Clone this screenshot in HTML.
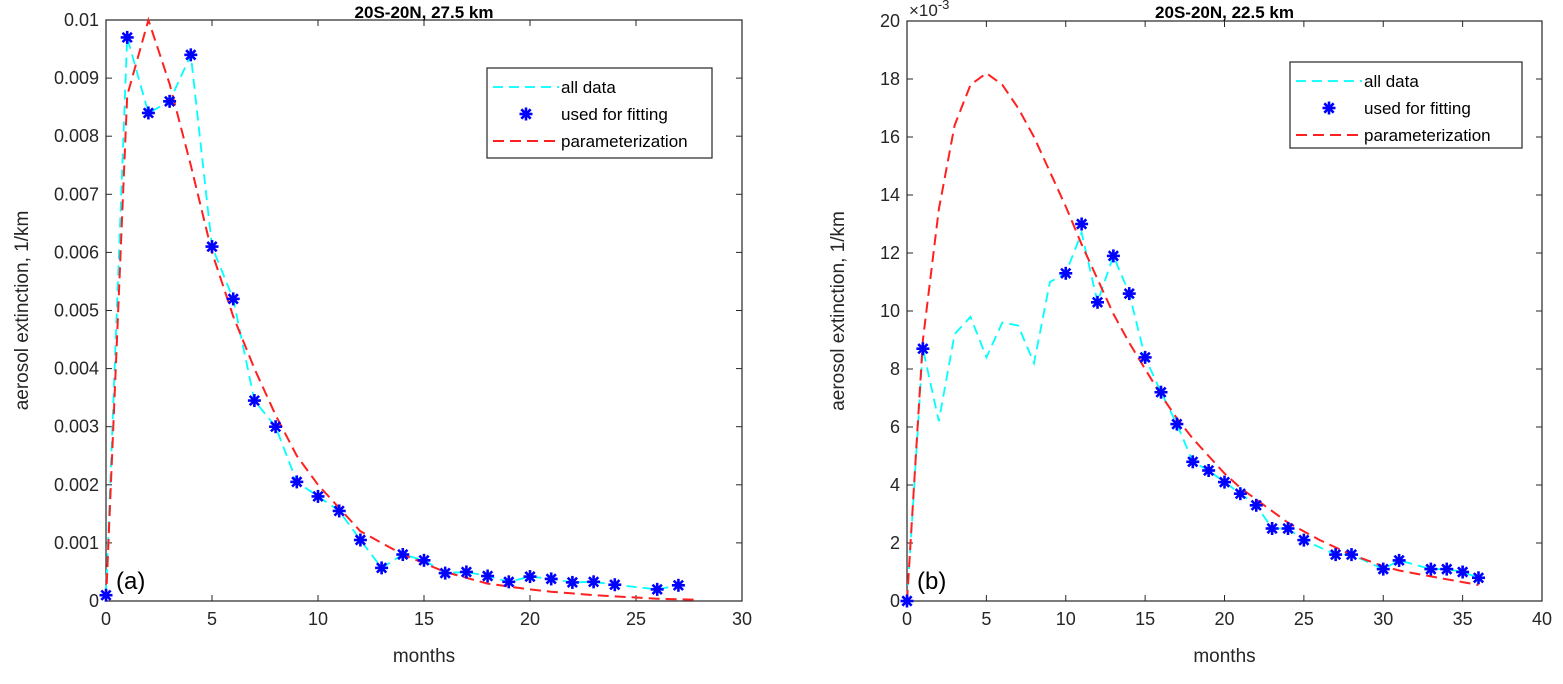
<!DOCTYPE html>
<html><head><meta charset="utf-8"><style>
body{margin:0;background:#fff;width:1563px;height:679px;overflow:hidden;font-family:"Liberation Sans",Arial,sans-serif}
svg text{font-family:"Liberation Sans",Arial,sans-serif}
</style></head><body>
<svg id="s" width="1563" height="679" xmlns="http://www.w3.org/2000/svg"></svg>
<script>
// Panel (a)
const aMonths=[0,1,2,3,4,5,6,7,8,9,10,11,12,13,14,15,16,17,18,19,20,21,22,23,24,26,27];
const aValues=[0.0001,0.0097,0.0084,0.0086,0.0094,0.0061,0.0052,0.00345,0.003,0.00205,0.0018,0.00155,0.00105,0.00057,0.0008,0.0007,0.00048,0.0005,0.00043,0.00033,0.00042,0.00038,0.00032,0.00033,0.00028,0.0002,0.00027];
const aParamMonths=[0,1,2,3,4,5,6,7,8,9,10,11,12,13,14,15,16,17,18,19,20,21,22,23,24,25,26,27,28];
const aParam=[0,0.0087,0.0100,0.0089,0.0075,0.0060,0.0049,0.0040,0.0032,0.0025,0.0020,0.0016,0.0012,0.001,0.0008,0.00065,0.0005,0.0004,0.0003,0.00025,0.0002,0.00016,0.00013,0.0001,0.00008,0.00006,0.00004,0.00003,0.00002];
const aXTicks=[0,5,10,15,20,25,30];
const aYTicks=[0,0.001,0.002,0.003,0.004,0.005,0.006,0.007,0.008,0.009,0.01];
const aYTickLabels=["0","0.001","0.002","0.003","0.004","0.005","0.006","0.007","0.008","0.009","0.01"];
// Panel (b) (x1e-3)
const bMonths=[0,1,10,11,12,13,14,15,16,17,18,19,20,21,22,23,24,25,27,28,30,31,33,34,35,36];
const bValues=[0,8.7,11.3,13.0,10.3,11.9,10.6,8.4,7.2,6.1,4.8,4.5,4.1,3.7,3.3,2.5,2.5,2.1,1.6,1.6,1.1,1.4,1.1,1.1,1.0,0.8];
const bAllMonths=[0,1,2,3,4,5,6,7,8,9,10,11,12,13,14,15,16,17,18,19,20,21,22,23,24,25,27,28,30,31,33,34,35,36];
const bAllValues=[0,8.7,6.2,9.2,9.8,8.4,9.6,9.5,8.2,11.0,11.3,12.7,10.3,11.9,10.6,8.4,7.2,6.1,4.8,4.5,4.1,3.7,3.3,2.5,2.5,2.1,1.6,1.6,1.1,1.4,1.1,1.1,1.0,0.8];
const bParamMonths=[0,1,2,3,4,5,6,7,8,9,10,11,12,13,14,15,16,17,18,19,20,21,22,23,24,25,26,27,28,29,30,31,32,33,34,35,36];
const bParam=[0,9,13.5,16.4,17.8,18.2,17.8,17,16,14.8,13.6,12.3,11.1,9.9,8.9,8.0,7.1,6.3,5.6,5.0,4.4,3.9,3.5,3.1,2.7,2.4,2.1,1.85,1.6,1.4,1.2,1.05,0.95,0.85,0.75,0.65,0.55];
const bXTicks=[0,5,10,15,20,25,30,35,40];
const bYTicks=[0,2,4,6,8,10,12,14,16,18,20];

const S=document.getElementById('s');const NS='http://www.w3.org/2000/svg';
function el(t,a,p){const e=document.createElementNS(NS,t);for(const k in a)e.setAttribute(k,a[k]);(p||S).appendChild(e);return e;}
function txt(x,y,s,a){const e=el('text',Object.assign({x:x,y:y,'font-size':18,fill:'#262626'},a||{}));e.textContent=s;return e;}

function panel(cfg){
 const g=el('g',{});
 
 
 const X=v=>cfg.x0+(v-cfg.xmin)/(cfg.xmax-cfg.xmin)*(cfg.x1-cfg.x0);
 const Y=v=>cfg.y0-(v-cfg.ymin)/(cfg.ymax-cfg.ymin)*(cfg.y0-cfg.y1);
 el('rect',{x:cfg.x0,y:cfg.y1,width:cfg.x1-cfg.x0,height:cfg.y0-cfg.y1,fill:'#fff',stroke:'#262626','stroke-width':1.2},g);
 cfg.xticks.forEach(t=>{const x=X(t);
  el('line',{x1:x,x2:x,y1:cfg.y0,y2:cfg.y0-6,stroke:'#262626'},g);el('line',{x1:x,x2:x,y1:cfg.y1,y2:cfg.y1+6,stroke:'#262626'},g);
  const e=txt(x,cfg.y0+24,String(t),{'text-anchor':'middle'});g.appendChild(e);
  });
 cfg.yticks.forEach((t,i)=>{const y=Y(t);
  el('line',{x1:cfg.x0,x2:cfg.x0+6,y1:y,y2:y,stroke:'#262626'},g);el('line',{x1:cfg.x1,x2:cfg.x1-6,y1:y,y2:y,stroke:'#262626'},g);
  const e=txt(cfg.x0-7,y+6,cfg.ylabels[i],{'text-anchor':'end'});g.appendChild(e);
  });
 const pts=(xs,ys)=>xs.map((m,i)=>X(m).toFixed(1)+','+Y(ys[i]).toFixed(1)).join(' ');
 const c=el('polyline',{points:pts(cfg.allX,cfg.allY),fill:'none',stroke:'#00ffff','stroke-width':1.8,'stroke-dasharray':'10,6'},g);
 
 const r=el('polyline',{points:pts(cfg.parX,cfg.parY),fill:'none',stroke:'#ff2020','stroke-width':2,'stroke-dasharray':'11,6'},g);
 
 cfg.fitX.forEach((m,i)=>{const s=star(X(m),Y(cfg.fitY[i]),g);
  });
 const tl=txt((cfg.x0+cfg.x1)/2,cfg.titleY,cfg.title,{'text-anchor':'middle','font-weight':'bold','font-size':17,fill:'#000'});g.appendChild(tl);
 
 const xl=txt((cfg.x0+cfg.x1)/2,cfg.y0+61,'months',{'text-anchor':'middle','font-size':19});g.appendChild(xl);
 
 const yx=cfg.ylabx,yy=(cfg.y0+cfg.y1)/2;
 const yl=txt(yx,yy,'aerosol extinction, 1/km',{'text-anchor':'middle','font-size':19,transform:'rotate(-90 '+yx+' '+yy+')'});g.appendChild(yl);
 
 const pl=txt(cfg.x0+10,cfg.y0-12,cfg.plabel,{'font-size':24,fill:'#000'});g.appendChild(pl);
 
 const L=cfg.leg;const lg=el('g',{},g);
 
 el('rect',{x:L.x,y:L.y,width:L.w,height:L.h,fill:'#fff',stroke:'#262626','stroke-width':1.2},lg);
 const rows=[L.y+19,L.y+46,L.y+73];
 el('line',{x1:L.x+6,x2:L.x+72,y1:rows[0],y2:rows[0],stroke:'#00ffff','stroke-width':1.8,'stroke-dasharray':'10,6'},lg);
 star(L.x+39,rows[1],lg);
 el('line',{x1:L.x+6,x2:L.x+72,y1:rows[2],y2:rows[2],stroke:'#ff2020','stroke-width':2,'stroke-dasharray':'11,6'},lg);
 ['all data','used for fitting','parameterization'].forEach((s,i)=>{const e=txt(L.x+74,rows[i]+6,s,{'font-size':17,fill:'#000'});lg.appendChild(e);
  });
}
function star(x,y,p){const g=el('g',{stroke:'#0000ff','stroke-width':2.6},p);const r=6.5;
 el('line',{x1:x-r,x2:x+r,y1:y,y2:y},g);el('line',{x1:x,x2:x,y1:y-r,y2:y+r},g);
 el('line',{x1:x-r*.72,x2:x+r*.72,y1:y-r*.72,y2:y+r*.72},g);el('line',{x1:x-r*.72,x2:x+r*.72,y1:y+r*.72,y2:y-r*.72},g);return g;}

panel({name:'chart-a',x0:106,x1:742,y0:601,y1:20,xmin:0,xmax:30,ymin:0,ymax:0.01,xticks:aXTicks,yticks:aYTicks,ylabels:aYTickLabels,
 allX:aMonths,allY:aValues,fitX:aMonths,fitY:aValues,parX:aParamMonths,parY:aParam,title:'20S-20N, 27.5 km',titleY:18,plabel:'(a)',ylabx:28,
 leg:{x:487,y:68,w:225,h:90}});
panel({name:'chart-b',x0:907,x1:1542,y0:601,y1:21,xmin:0,xmax:40,ymin:0,ymax:20,xticks:bXTicks,yticks:bYTicks,ylabels:bYTicks.map(String),
 allX:bAllMonths,allY:bAllValues,fitX:bMonths,fitY:bValues,parX:bParamMonths,parY:bParam,title:'20S-20N, 22.5 km',titleY:18,plabel:'(b)',ylabx:844,
 leg:{x:1290,y:62,w:232,h:86}});
const ex=el('text',{x:909,y:16,'font-size':17,fill:'#262626'});ex.textContent='×10';

const ex2=el('tspan',{dy:-7,'font-size':13},ex);ex2.textContent='-3';
</script>
</body></html>
